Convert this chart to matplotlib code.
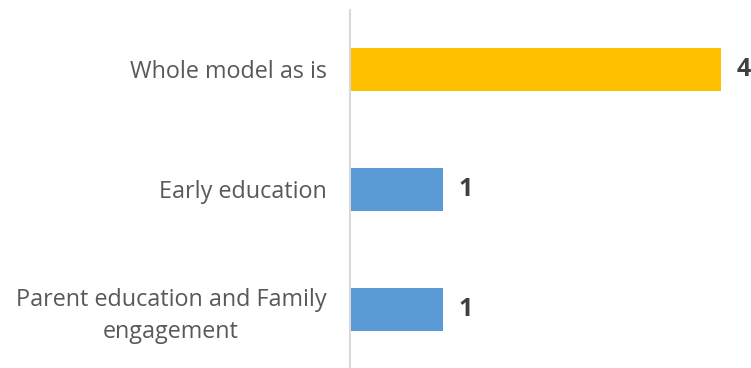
import matplotlib.pyplot as plt

categories = ["Whole model as is", "Early education", "Parent education and Family\nengagement"]
values = [4, 1, 1]
colors = ["#FFC000", "#5B9BD5", "#5B9BD5"]

plt.rcParams['font.family'] = ['Open Sans', 'DejaVu Sans']

fig = plt.figure(figsize=(7.51, 3.68), dpi=100)
ax = fig.add_axes([350 / 751, -1.5 / 368, 399 / 751, 360 / 368])

ypos = list(range(len(categories)))
ax.barh(ypos, values, height=0.36, color=colors)
ax.set_ylim(2.5, -0.5)
ax.set_xlim(0, 4.3)

for y, v in zip(ypos, values):
    ax.text(v + 0.17, y, str(v), va='center', ha='left', fontsize=18,
            fontweight='bold', color='#404040')

ax.set_yticks(ypos)
ax.set_yticklabels(categories, fontsize=16.8, color='#595959',
                   multialignment='center', linespacing=1.4)
ax.tick_params(axis='y', length=0, pad=17)
ax.set_xticks([])

for side in ['top', 'right', 'bottom']:
    ax.spines[side].set_visible(False)
ax.spines['left'].set_color('#D9D9D9')
ax.spines['left'].set_linewidth(1.5)

fig.savefig('out.png', dpi=100)
